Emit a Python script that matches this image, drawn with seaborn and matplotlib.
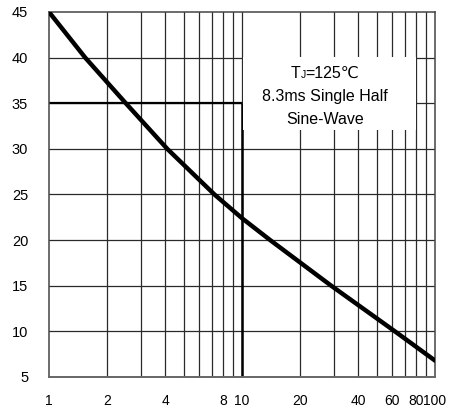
import numpy as np
import pandas as pd
import matplotlib
matplotlib.use("Agg")
import matplotlib.pyplot as plt
import seaborn as sns
from matplotlib.patches import Rectangle
from matplotlib.ticker import FixedLocator, NullFormatter
from matplotlib.offsetbox import TextArea, HPacker, AnnotationBbox

# 读图得到的曲线点 (周期数, 峰值浪涌电流)
cycles = [1, 1.54, 2.5, 4.1, 7.2, 10, 14, 29, 62, 100]
surge = [45, 40, 35, 30, 25, 22.4, 20, 15, 10, 6.8]

x_ticks = [1, 2, 4, 8, 10, 20, 40, 60, 80, 100]
x_grid = [2, 3, 4, 5, 6, 7, 8, 9, 10, 20, 30, 40, 50, 60, 70, 80, 90]
y_ticks = [5, 10, 15, 20, 25, 30, 35, 40, 45]
y_grid = [10, 15, 20, 25, 30, 35, 40]

note_lines = ["8.3ms Single Half", "Sine-Wave"]

sns.set_theme(style="white")
plt.rcParams["font.family"] = ["Liberation Sans", "DejaVu Sans"]

fig = plt.figure(figsize=(4.5, 4.07), dpi=100)
ax = fig.add_axes([49 / 450, 1 - 377 / 407, 386 / 450, 365 / 407])

df = pd.DataFrame({"cycles": cycles, "surge": surge})

ax.set_xscale("log")
ax.set_xlim(1, 100)
ax.set_ylim(5, 45)

# 网格线
for xv in x_grid:
    ax.axvline(xv, color="#2a2a2a", lw=0.9, zorder=1)
for yv in y_grid:
    ax.axhline(yv, color="#2a2a2a", lw=0.9, zorder=1)

# 粗框线
ax.vlines(10, 5, 35, color="black", lw=1.8, zorder=2)
ax.hlines(35, 1, 10, color="black", lw=1.6, zorder=2)

# 注释框
ax.add_patch(Rectangle((10.15, 32.1), 79.3 - 10.15, 40.1 - 32.1,
                       facecolor="white", edgecolor="none", zorder=3))

fam = ["Liberation Sans", "DejaVu Sans"]
tj = HPacker(children=[
    TextArea("T", textprops=dict(fontsize=11.5, family=fam, color="black")),
    TextArea("J", textprops=dict(fontsize=7.5, family=fam, color="black")),
    TextArea("=125℃", textprops=dict(fontsize=11.5, family=fam, color="black")),
], pad=0, sep=0, align="baseline")
ab = AnnotationBbox(tj, (26.9, 38.3), frameon=False, box_alignment=(0.5, 0.5), zorder=4)
ax.add_artist(ab)

for i, line in enumerate(note_lines):
    ax.text(26.9, 35.75 - i * 2.55, line, ha="center", va="center",
            fontsize=11.5, family=fam, zorder=4, color="black")

sns.lineplot(data=df, x="cycles", y="surge", color="black", lw=3.2, ax=ax, zorder=5)

ax.xaxis.set_major_locator(FixedLocator(x_ticks))
ax.xaxis.set_minor_formatter(NullFormatter())
ax.set_xticks(x_ticks)
ax.set_xticklabels([str(v) for v in x_ticks])
ax.set_yticks(y_ticks)
ax.set_yticklabels([str(v) for v in y_ticks])
ax.tick_params(axis="x", which="both", length=0, pad=12, labelsize=10, colors="black")
ax.tick_params(axis="y", length=0, pad=15, labelsize=10.5, colors="black")
ax.set_xlabel("")
ax.set_ylabel("")

for side in ["top", "right", "left", "bottom"]:
    ax.spines[side].set_visible(True)
    ax.spines[side].set_color("#444444")
    ax.spines[side].set_linewidth(1.1)
ax.spines["bottom"].set_linewidth(1.4)
ax.spines["bottom"].set_color("#666666")

fig.savefig("out.png", dpi=100)
